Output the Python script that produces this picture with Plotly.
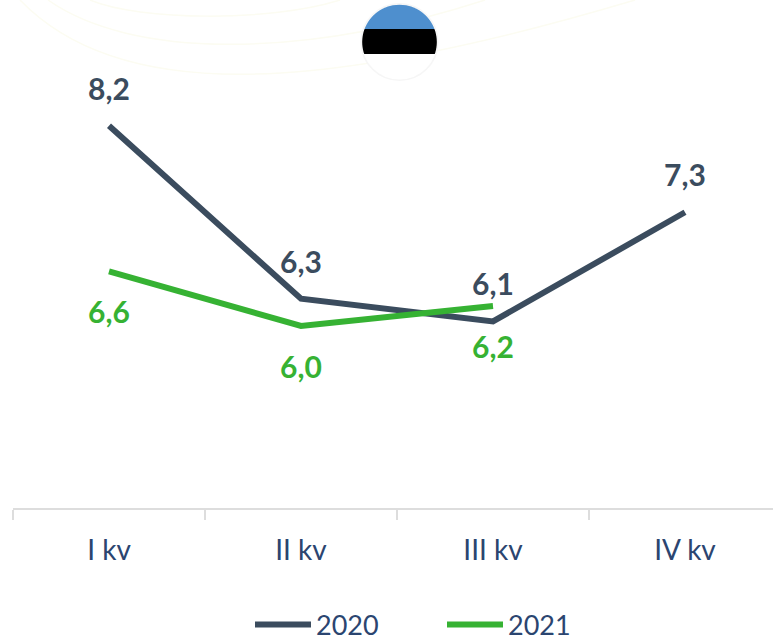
import numpy as np
import plotly.graph_objects as go

categories = ["I kv", "II kv", "III kv", "IV kv"]
values_2020 = [8.2, 6.3, 6.05, 7.25]
labels_2020 = ["8,2", "6,3", "6,1", "7,3"]
values_2021 = [6.6, 6.0, 6.22]
labels_2021 = ["6,6", "6,0", "6,2"]
series_names = ["2020", "2021"]

DARK = "#3b4c5e"
GREEN = "#36b233"
TEXT = "#2b4570"
W, H = 773, 643
AXIS_PX = 508
PX_PER_UNIT = 91


def px(x):
    return x / W


def py(y):
    return 1 - y / H


def curve(p0, c1, c2, p1):
    return (f"M{px(p0[0])},{py(p0[1])} C{px(c1[0])},{py(c1[1])} "
            f"{px(c2[0])},{py(c2[1])} {px(p1[0])},{py(p1[1])}")


def band(cx, cy, r, y0, y1):
    ys = np.linspace(y0, y1, 40)
    xs = np.sqrt(np.maximum(r * r - (ys - cy) ** 2, 0))
    left = list(zip(cx - xs, ys))
    right = list(zip(cx + xs, ys))[::-1]
    pts = left + right
    return "M" + " L".join(f"{px(a)},{py(b)}" for a, b in pts) + " Z"


shapes = []
for p in [
    ((90, 0), (140, 21), (270, 22), (340, 0)),
    ((48, 0), (130, 58), (300, 60), (485, 0)),
    ((20, 0), (120, 104), (320, 94), (635, 0)),
]:
    shapes.append(dict(type="path", xref="paper", yref="paper", path=curve(*p),
                       line=dict(color="#fcfcf2", width=1.5), layer="below"))

cx, cy, r = 399.5, 42, 37.3
shapes.append(dict(type="circle", xref="paper", yref="paper",
                   x0=px(cx - r - 1), x1=px(cx + r + 1), y0=py(cy + r + 1), y1=py(cy - r - 1),
                   fillcolor="#ffffff", line=dict(color="#f6f6f6", width=1.5), layer="below"))
shapes.append(dict(type="path", xref="paper", yref="paper", path=band(cx, cy, r, cy - r, 29),
                   fillcolor="#4e8fce", line=dict(width=0), layer="below"))
shapes.append(dict(type="path", xref="paper", yref="paper", path=band(cx, cy, r, 29, 54),
                   fillcolor="#000000", line=dict(width=0), layer="below"))

fig = go.Figure()
fig.add_trace(go.Scatter(x=categories, y=values_2020, mode="lines", name=series_names[0],
                         line=dict(color=DARK, width=6), hoverinfo="skip"))
fig.add_trace(go.Scatter(x=categories[:3], y=values_2021, mode="lines", name=series_names[1],
                         line=dict(color=GREEN, width=6), hoverinfo="skip"))

annotations = []
for cat, v, t in zip(categories, values_2020, labels_2020):
    annotations.append(dict(x=cat, y=v, text=f"<b>{t}</b>", showarrow=False, yshift=38,
                            font=dict(family="Lato", size=30, color=DARK)))
for cat, v, t in zip(categories, values_2021, labels_2021):
    annotations.append(dict(x=cat, y=v, text=f"<b>{t}</b>", showarrow=False, yshift=-40,
                            font=dict(family="Lato", size=30, color=GREEN)))

fig.update_layout(
    width=W, height=H, margin=dict(l=0, r=0, t=0, b=0, autoexpand=False),
    paper_bgcolor="white", plot_bgcolor="white",
    font=dict(family="Lato", color=TEXT, size=28),
    shapes=shapes, annotations=annotations,
    xaxis=dict(domain=[13 / W, 1], range=[-0.5, -0.5 + (W - 13) / 192], type="category",
               categoryorder="array", categoryarray=categories,
               tickson="boundaries", ticks="outside", ticklen=10, tickwidth=2, tickcolor="#dddddd",
               showline=True, linecolor="#dddddd", linewidth=2, showgrid=False, zeroline=False,
               ticklabelstandoff=16, automargin=False, tickfont=dict(family="Lato", size=28, color=TEXT)),
    yaxis=dict(domain=[(H - AXIS_PX) / H, 1], range=[4, 4 + AXIS_PX / PX_PER_UNIT], visible=False,
               automargin=False),
    legend=dict(orientation="h", x=px(250), xanchor="left", y=py(625), yanchor="middle",
                itemwidth=56, entrywidth=121, entrywidthmode="pixels", tracegroupgap=0,
                font=dict(family="Lato", size=27, color=TEXT), bgcolor="rgba(0,0,0,0)"),
)
fig.write_html("out.html", config={"displayModeBar": False},
               post_script="document.body.style.margin='0';document.body.style.overflow='hidden';")
